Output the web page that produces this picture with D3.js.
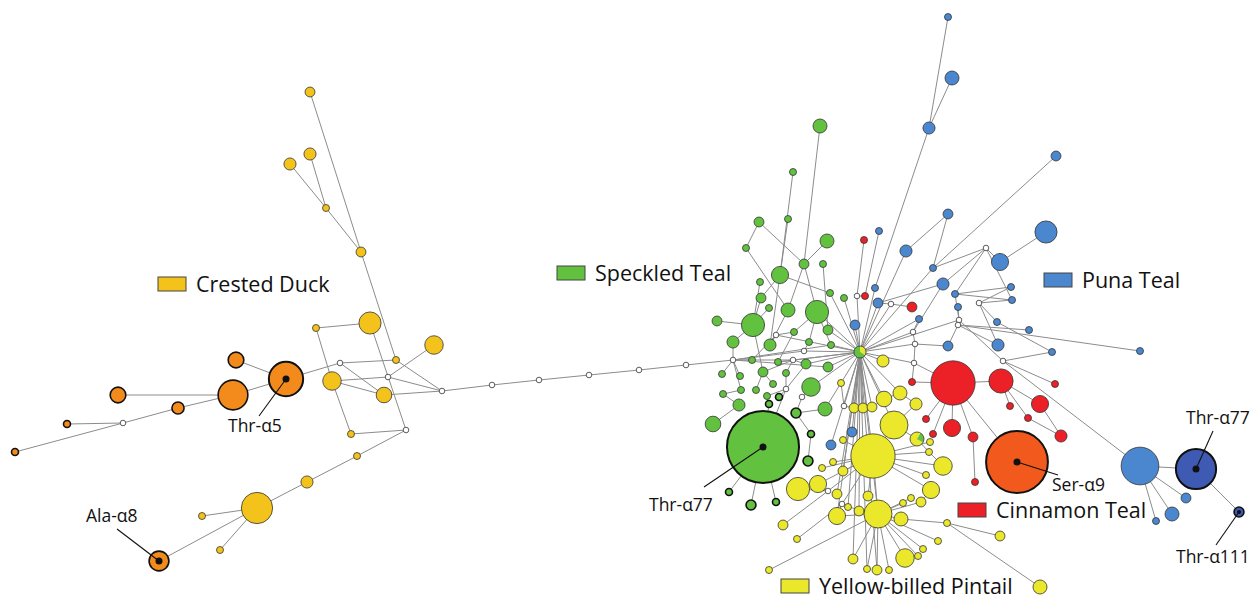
<!DOCTYPE html>
<html>
<head>
<meta charset="utf-8">
<script src="https://cdn.jsdelivr.net/npm/d3@7"></script>
<style>
body { margin: 0; background: #fff; }
text { font-family: "Open Sans", sans-serif; fill: #111; }
</style>
</head>
<body>
<div id="network"></div>
<script>
// haplotype network: each node is [id, x, y, individuals]
var crestedDuck = [
  ['a1',310,92,2],['a2',310,154,3],['a3',290,164,3],['a4',326,208,1],['a5',361,252,2],
  ['a6',370,323,10],['a7',316,328,1],['a8',434,345,7],['a9',332,381,7],['a10',384,395,5],
  ['a11',396,360,1],['a12',351,434,1],['a13',357,456,1],['a14',307,482,3],['a15',257,508,20],
  ['a16',202,516,1],['a17',220,550,1]
];
var crestedOrange = [
  ['o1',286,379,24],['o2',233,395,18],['o3',236,360,5],['o4',118,395,5],['o5',178,408,3],
  ['o6',67,424,1],['o7',15,452,1],['o8',159,561,8]
];
var speckledTeal = [
  ['g1',820,126,4],['g2',793,172,1],['g3',788,219,1],['g4',759,222,2],['g5',746,248,1],
  ['g6',827,241,4],['g7',804,264,2],['g8',823,264,1],['g9',780,275,6],['g10',760,282,1],
  ['g11',830,293,1],['g12',844,298,1],['g13',761,298,2],['g14',769,308,1],['g15',788,310,4],
  ['g16',817,312,11],['g17',753,325,11],['g18',717,321,2],['g19',794,332,1],['g20',828,330,2],
  ['g21',733,342,3],['g22',770,345,3],['g23',809,342,1],['g24',831,345,1],['g25',752,360,1],
  ['g26',778,362,1],['g27',806,364,2],['g28',828,367,2],['g29',722,374,1],['g30',740,376,1],
  ['g31',763,372,2],['g32',786,373,1],['g33',773,384,1],['g34',811,387,7],['g35',741,390,1],
  ['g36',756,390,1],['g37',723,394,1],['g38',767,396,1],['g39',779,397,1],['g40',739,405,3],
  ['g41',769,404,1],['g42',825,409,4],['g43',713,424,5],['g44',796,413,2],['g45',811,434,1],
  ['g46',808,461,2],['g47',729,492,1],['g48',751,505,2],['g49',776,502,1],['gT',763,447,106]
];
var punaTeal = [
  ['b1',948,17,1],['b2',952,78,4],['b3',929,128,3],['b4',1056,156,2],['b5',948,214,2],
  ['b6',1046,232,10],['b7',906,251,3],['b8',879,231,1],['b9',1000,262,6],['b10',933,268,1],
  ['b11',943,284,3],['b12',875,288,1],['b13',955,294,1],['b14',1011,287,1],['b15',1012,300,1],
  ['b16',878,303,2],['b17',919,319,1],['b18',958,307,1],['b19',948,346,2],['b20',998,345,3],
  ['b21',997,322,1],['b22',1029,330,1],['b23',1052,352,1],['b24',1140,351,1],['b25',855,325,2],
  ['b26',852,432,2],['b27',831,445,2],['b28',1140,466,29],['b29',1186,498,2],['b30',1172,514,4],
  ['b31',1156,521,1]
];
var punaDark = [['d1',1196,469,33],['d2',1239,512,2]];
var cinnamonTeal = [
  ['r1',864,240,1],['r2',865,296,1],['r3',912,307,2],['r4',912,382,1],['r5',953,383,40],
  ['r6',1001,381,12],['r7',1010,406,1],['r8',1040,404,6],['r9',1028,418,1],['r10',1061,436,3],
  ['r11',952,428,6],['r12',926,419,1],['r13',933,434,1],['r14',973,437,2],['r15',975,482,1],
  ['r16',1055,384,1]
];
var cinnamonSer = [['so1',1017,462,78]];
var pintail = [
  ['y1',883,361,3],['y2',841,383,1],['y3',884,399,5],['y4',900,393,4],['y5',916,404,3],
  ['y6',854,408,2],['y7',863,408,2],['y8',872,407,2],['y9',894,425,16],['y10',843,440,1],
  ['y11',873,456,40],['y12',930,442,1],['y13',929,452,1],['y14',943,466,7],['y15',822,468,1],
  ['y16',833,462,1],['y17',843,471,2],['y18',798,489,11],['y19',818,484,6],['y20',837,494,2],
  ['y21',848,507,1],['y22',868,496,2],['y23',859,511,2],['y24',878,514,16],['y25',837,516,6],
  ['y26',783,525,2],['y27',797,539,1],['y28',901,519,4],['y29',926,475,1],['y30',931,490,6],
  ['y31',921,502,2],['y32',911,498,1],['y33',903,503,1],['y34',947,523,1],['y35',1000,536,2],
  ['y36',938,541,1],['y37',923,549,1],['y38',918,556,1],['y39',905,558,7],['y40',853,559,2],
  ['y41',867,569,1],['y42',877,570,2],['y43',889,570,1],['y44',769,570,1],['y45',1040,587,4]
];
// shared haplotypes: [id, x, y, speckled, pintail]
var shared = [['h',860,352,2,1],['mx2',917,439,1,3]];
// inferred (median) haplotypes
var medians = [
  ['m1',340,363],['m2',388,377],['m3',442,391],['m4',406,430],['m5',123,423],
  ['c1',492,385],['c2',539,380],['c3',589,375],['c4',639,370],['c5',686,365],['c6',733,360],
  ['w1',776,335],['w2',857,296],['w3',804,351],['w4',793,360],['w5',786,389],['w6',802,397],
  ['w7',844,406],['w8',828,491],['w9',842,504],['w10',891,304],['w11',915,344],['w12',914,363],
  ['w13',913,332],['w14',959,320],['w15',958,325],['w16',979,303],['w17',986,248],['w18',1003,361]
];
var thickIds = ['o1','o2','o3','o4','o5','o6','o7','o8','g39','g41','g44','g45','g46','g47','g48','g49','gT','so1','d1','d2'];

var links = [
  // crested duck
  ['a1','a5'],['a2','a4'],['a3','a4'],['a4','a5'],['a5','a11'],['a6','a7'],['a6','m4'],['a7','a9'],
  ['a9','a12'],['a12','m4'],['m4','a13'],['a13','a14'],['a14','a15'],['a15','a16'],['a15','a17'],['a15','o8'],
  ['a9','m2'],['a9','a10'],['a10','m3'],['a11','m1'],['m1','a10'],['m1','o1'],['m2','a8'],['m2','m3'],['a11','m3'],
  ['o1','o2'],['o1','o3'],['o2','o4'],['o2','o5'],['o5','m5'],['m5','o6'],['m5','o7'],
  ['m3','c1'],['c1','c2'],['c2','c3'],['c3','c4'],['c4','c5'],['c5','c6'],
  // speckled teal
  ['g1','g7'],['g2','g9'],['g3','g9'],['g4','g5'],['g4','g7'],['g6','g7'],['g7','g16'],['g7','g15'],['g8','g20'],
  ['g5','g15'],['g9','g11'],['g9','g13'],['g9','g22'],['g10','g17'],['g11','h'],['g12','h'],['g13','g17'],
  ['g14','g17'],['g15','g22'],['g16','g19'],['g16','g23'],['g16','g24'],['g16','h'],['g17','g18'],['g17','g21'],
  ['g17','g31'],['g19','g26'],['g20','h'],['g21','c6'],['g22','w1'],['w1','g19'],['w1','g25'],['g23','w3'],
  ['w3','h'],['g24','h'],['g25','c6'],['g26','w4'],['w4','g27'],['g27','h'],['g28','h'],['g29','c6'],['g30','c6'],
  ['g31','w4'],['g32','w4'],['g33','g31'],['g34','w6'],['g34','h'],['g35','c6'],['g36','g31'],['g37','g35'],
  ['g38','w5'],['w5','g32'],['w5','g27'],['g39','w5'],['g40','g37'],['g41','g38'],['g42','h'],['g43','g40'],
  ['g44','w6'],['g45','g44'],['g46','g45'],['gT','g41'],['gT','g47'],['gT','g48'],['gT','g49'],['gT','w5'],
  ['g44','g42'],['c6','g24'],['c6','g28'],['c6','w3'],['c6','w4'],['w1','h'],['w4','h'],['g26','h'],
  // puna teal
  ['b1','b3'],['b2','b3'],['b3','b12'],['b12','h'],['b4','b10'],['b5','b7'],['b5','b10'],['b6','b9'],['b9','w17'],
  ['w17','b10'],['w17','b11'],['w17','b13'],['w17','b15'],['b7','h'],['r1','w2'],['b8','r2'],['r2','w2'],['w2','h'],
  ['b10','h'],['b11','b16'],['b11','w13'],['b13','b14'],['b13','b15'],['b13','w14'],['b14','w16'],['b15','w16'],
  ['b16','w10'],['w10','r3'],['w10','h'],['b17','w13'],['w13','w11'],['w11','w12'],['w12','r4'],['b18','w14'],
  ['w14','w15'],['w15','b19'],['b19','w11'],['b20','w16'],['b20','w15'],['b21','w16'],['b22','w15'],['b23','b21'],
  ['b24','w15'],['b25','h'],['b26','h'],['b27','h'],['h','w13'],['h','w11'],['h','w12'],['h','w14'],['h','b16'],
  ['h','b17'],['w18','b23'],['w18','r16'],['w18','w14'],['w18','b28'],
  ['b28','d1'],['b28','b29'],['b28','b30'],['b28','b31'],['d1','d2'],
  // cinnamon teal
  ['r5','r4'],['r5','r6'],['r5','r11'],['r5','r14'],['r5','so1'],['r5','r12'],['r5','r13'],['r5','w12'],
  ['r6','r7'],['r6','r8'],['r6','r9'],['r8','r10'],['r9','r10'],['r14','r15'],
  // pintail
  ['h','y1'],['h','y3'],['h','y4'],['h','y6'],['h','y7'],['h','y8'],['h','y9'],['h','y11'],['h','y24'],
  ['h','y40'],['h','y41'],['h','y42'],['h','y21'],['h','y23'],['h','y17'],['h','y25'],['h','y20'],['h','w7'],
  ['w7','y2'],['w7','y6'],['y6','y7'],['y7','y8'],['y8','y3'],['y3','y4'],['y4','y5'],['y5','y9'],['y9','y11'],
  ['y9','mx2'],['y11','y24'],['y11','y10'],['y11','y15'],['y11','y16'],['y11','y17'],['y11','y19'],['y11','y22'],
  ['y11','y12'],['y11','y13'],['y11','y14'],['y11','y29'],['y11','y30'],['y11','w8'],['w8','y18'],['w8','y19'],
  ['w8','y26'],['w9','y25'],['w9','y27'],['w9','y11'],['y24','y21'],['y24','y23'],['y24','y25'],['y24','y28'],
  ['y24','y33'],['y24','y32'],['y24','y31'],['y24','y36'],['y24','y37'],['y24','y38'],['y24','y39'],['y24','y40'],
  ['y24','y41'],['y24','y42'],['y24','y43'],['y24','y44'],['y28','y34'],['y34','y45'],['y34','y35'],['y30','y31'],
  ['y14','y13'],['mx2','y13']
];

var species = {
  cd: {fill:'#f4c31b', nodes: crestedDuck},
  or: {fill:'#f38b1c', nodes: crestedOrange},
  st: {fill:'#63c140', nodes: speckledTeal},
  pt: {fill:'#4b87cf', nodes: punaTeal},
  db: {fill:'#3f5ab2', nodes: punaDark},
  ct: {fill:'#ec2027', nodes: cinnamonTeal},
  so: {fill:'#f15a1c', nodes: cinnamonSer},
  yp: {fill:'#ebe82b', nodes: pintail}
};

var legendNames = ['Crested Duck','Speckled Teal','Puna Teal','Cinnamon Teal','Yellow-billed Pintail'];
var legendKeys = ['cd','st','pt','ct','yp'];
var legendAt = [[158,277],[557,266],[1044,273],[958,503],[781,579]];

var labelNames = ['Thr-\u03b15','Ala-\u03b18','Thr-\u03b177','Ser-\u03b19','Thr-\u03b177','Thr-\u03b1111'];
var labelNodes = ['o1','o8','gT','so1','d1','d2'];
var labelText = [[228,432,259,416],[86,522,117,529],[649,511,704,487],[1052,491,1058,475],[1186,424,1213,431],[1176,563,1216,545]];

var width = 1257, height = 601;
var x = d3.scaleLinear().domain([0,1257]).range([0,width]);
var y = d3.scaleLinear().domain([0,601]).range([0,height]);
var r = d3.scaleSqrt().domain([0,1]).range([0,3.5]);

var nodes = [];
Object.keys(species).forEach(function(k){
  species[k].nodes.forEach(function(d){
    nodes.push({id:d[0], x:d[1], y:d[2], n:d[3], fill:species[k].fill});
  });
});
shared.forEach(function(d){
  nodes.push({id:d[0], x:d[1], y:d[2], n:d[3]+d[4], st:d[3], yp:d[4], mixed:true});
});
medians.forEach(function(d){
  nodes.push({id:d[0], x:d[1], y:d[2], n:0, fill:'#fff', median:true});
});
var byId = {};
nodes.forEach(function(d){ byId[d.id] = d; });

var svg = d3.select('#network')
  .append('svg')
  .attr('width',width)
  .attr('height',height);

svg.append('g').selectAll('line')
  .data(links)
  .enter()
  .append('line')
  .attr('x1',function(d){return x(byId[d[0]].x)})
  .attr('y1',function(d){return y(byId[d[0]].y)})
  .attr('x2',function(d){return x(byId[d[1]].x)})
  .attr('y2',function(d){return y(byId[d[1]].y)})
  .attr('stroke','#8c8c8c')
  .attr('stroke-width',1);

function radius(d){ return d.median ? 2.8 : r(d.n); }

// sort so big circles go below
var plain = nodes.filter(function(d){return !d.mixed}).sort(function(a,b){return b.n-a.n});
svg.append('g').selectAll('circle')
  .data(plain)
  .enter()
  .append('circle')
  .attr('cx',function(d){return x(d.x)})
  .attr('cy',function(d){return y(d.y)})
  .attr('r',radius)
  .attr('fill',function(d){return d.fill})
  .attr('stroke',function(d){return thickIds.indexOf(d.id)>=0 ? '#111' : '#333'})
  .attr('stroke-width',function(d){
    if (thickIds.indexOf(d.id) < 0) return 0.8;
    return d.n > 20 ? 2 : 1.6;
  });

// shared haplotypes as small pies
var arc = d3.arc().innerRadius(0);
var mixedStart = {h: 0, mx2: Math.PI/6};
nodes.filter(function(d){return d.mixed}).forEach(function(d){
  var g = svg.append('g').attr('transform','translate('+x(d.x)+','+y(d.y)+')');
  var rr = radius(d);
  var s = mixedStart[d.id];
  var minor = d.id === 'h' ? d.yp : d.st;
  var a = 2*Math.PI*minor/d.n;
  g.append('path').attr('d', arc({outerRadius:rr, startAngle:s+a, endAngle:s+2*Math.PI}))
    .attr('fill', d.id === 'h' ? species.st.fill : species.yp.fill);
  g.append('path').attr('d', arc({outerRadius:rr, startAngle:s, endAngle:s+a}))
    .attr('fill', d.id === 'h' ? species.yp.fill : species.st.fill);
  g.append('circle').attr('r',rr).attr('fill','none').attr('stroke','#333').attr('stroke-width',0.8);
});

// labelled haplotypes
labelNodes.forEach(function(id,i){
  var d = byId[id];
  var t = labelText[i];
  svg.append('line')
    .attr('x1',x(t[2])).attr('y1',y(t[3]))
    .attr('x2',x(d.x)).attr('y2',y(d.y))
    .attr('stroke','#111').attr('stroke-width',1.1);
  svg.append('circle')
    .attr('cx',x(d.x)).attr('cy',y(d.y))
    .attr('r', id==='d2' ? 2 : 3.5)
    .attr('fill','#111');
  svg.append('text')
    .attr('x',x(t[0])).attr('y',y(t[1]))
    .attr('font-size',17.5)
    .text(labelNames[i]);
});

// legend
legendKeys.forEach(function(k,i){
  var p = legendAt[i];
  svg.append('rect')
    .attr('x',x(p[0])).attr('y',y(p[1]))
    .attr('width',28).attr('height',14)
    .attr('fill',species[k].fill)
    .attr('stroke','#444').attr('stroke-width',1);
  svg.append('text')
    .attr('x',x(p[0])+38).attr('y',y(p[1])+15)
    .attr('font-size',21.5)
    .text(legendNames[i]);
});
</script>
</body>
</html>
